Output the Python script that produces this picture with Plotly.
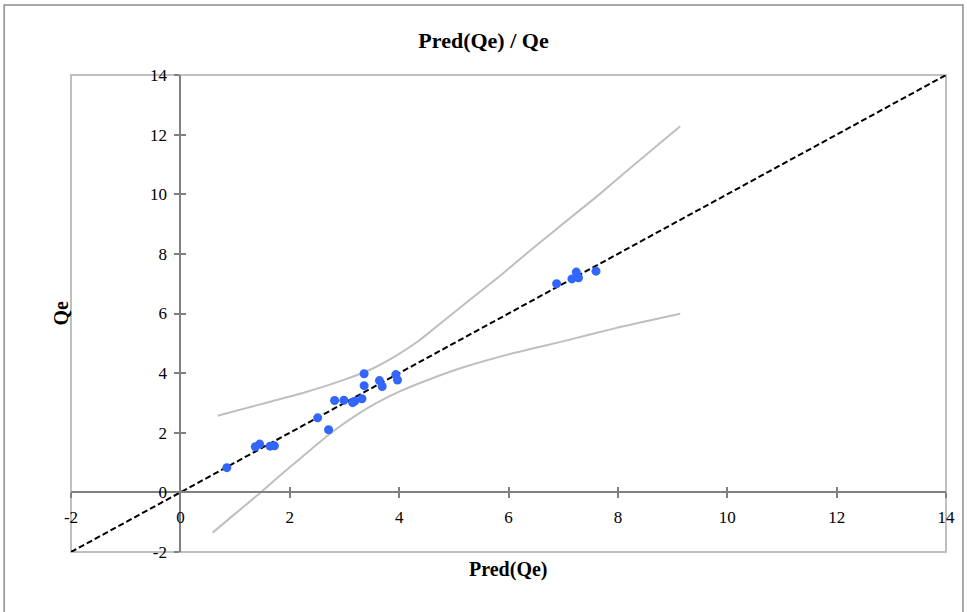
import plotly.graph_objects as go

# Observed points: Pred(Qe) vs Qe
pred = [0.85, 1.37, 1.45, 1.64, 1.72, 2.51, 2.71, 2.82, 2.99, 3.15, 3.19, 3.32,
        3.36, 3.36, 3.64, 3.69, 3.94, 3.97, 6.88, 7.16, 7.24, 7.28, 7.60]
qe = [0.83, 1.53, 1.62, 1.55, 1.56, 2.50, 2.10, 3.08, 3.09, 3.01, 3.06, 3.14,
      3.98, 3.58, 3.75, 3.55, 3.95, 3.77, 7.00, 7.16, 7.39, 7.20, 7.42]

# Upper confidence curve
upper_x = [0.68, 1.66, 2.27, 3.00, 3.49, 3.97, 4.34, 4.61, 5.22, 5.83, 6.44, 7.05, 7.65, 8.26, 9.14]
upper_y = [2.57, 3.05, 3.35, 3.78, 4.13, 4.61, 5.06, 5.45, 6.35, 7.24, 8.18, 9.09, 9.98, 10.93, 12.28]

# Lower confidence curve
lower_x = [0.59, 0.96, 1.45, 1.87, 2.36, 2.79, 3.21, 3.58, 4.00, 4.61, 5.22, 6.13, 7.05, 7.96, 9.14]
lower_y = [-1.35, -0.78, -0.03, 0.64, 1.40, 2.04, 2.58, 2.99, 3.38, 3.83, 4.22, 4.69, 5.09, 5.51, 5.99]

# Identity line
diag = [-2, 14]

tick_vals = [-2, 0, 2, 4, 6, 8, 10, 12, 14]
tick_text = ["-2", "0", "2", "4", "6", "8", "10", "12", "14"]

FONT = "Liberation Serif"

fig = go.Figure()
fig.add_trace(go.Scatter(x=upper_x, y=upper_y, mode="lines",
                         line=dict(color="#BFBFBF", width=2, shape="spline", smoothing=0.5),
                         hoverinfo="skip"))
fig.add_trace(go.Scatter(x=lower_x, y=lower_y, mode="lines",
                         line=dict(color="#BFBFBF", width=2, shape="spline", smoothing=0.5),
                         hoverinfo="skip"))
fig.add_trace(go.Scatter(x=diag, y=diag, mode="lines",
                         line=dict(color="black", width=2, dash="6px,3px")))
fig.add_trace(go.Scatter(x=pred, y=qe, mode="markers",
                         marker=dict(color="#3366FF", size=9)))

axis_common = dict(
    range=[-2, 14], tickvals=tick_vals, ticktext=tick_text,
    anchor="free", position=0.125,
    showline=True, linecolor="#808080", linewidth=2,
    ticks="outside", ticklen=5, tickcolor="#808080", tickwidth=2,
    showgrid=False, zeroline=False,
    ticklabelstandoff=4,
    tickfont=dict(family=FONT, size=17, color="black"),
)
# overlay axes to draw the inner half of the crossing tick marks
axis_inner = dict(
    range=[-2, 14], tickvals=tick_vals,
    anchor="free", position=0.125,
    showline=False, ticks="inside", ticklen=5, tickcolor="#808080", tickwidth=2,
    showticklabels=False, showgrid=False, zeroline=False,
)

fig.update_layout(
    width=967, height=612,
    margin=dict(l=71, r=19, t=75, b=60),
    paper_bgcolor="white", plot_bgcolor="white",
    showlegend=False,
    title=dict(text="<b>Pred(Qe) / Qe</b>", x=0.5, xref="container", xanchor="center",
               y=1 - 40 / 612, yref="container", yanchor="middle",
               font=dict(family=FONT, size=22, color="black")),
    xaxis=dict(**axis_common),
    yaxis=dict(**axis_common),
    xaxis2=dict(**axis_inner, overlaying="x"),
    yaxis2=dict(**axis_inner, overlaying="y"),
    shapes=[
        dict(type="rect", xref="paper", yref="paper", x0=0, x1=1, y0=0, y1=1,
             line=dict(color="#BFBFBF", width=2), layer="below"),
        dict(type="rect", xref="paper", yref="paper",
             x0=(4 - 71) / 877, x1=(965 - 71) / 877,
             y0=(552 - 640) / 477, y1=(552 - 5) / 477,
             line=dict(color="#8C8C8C", width=1.5), layer="below"),
    ],
    annotations=[
        dict(text="<b>Pred(Qe)</b>", xref="paper", yref="paper", x=0.5, y=(552 - 569) / 477,
             xanchor="center", yanchor="middle", showarrow=False,
             font=dict(family=FONT, size=20, color="black")),
        dict(text="<b>Qe</b>", xref="paper", yref="paper", x=(60 - 71) / 877, y=0.5,
             xanchor="center", yanchor="middle", showarrow=False, textangle=-90,
             font=dict(family=FONT, size=20, color="black")),
    ],
)
# dummy invisible trace to activate overlay axes
fig.add_trace(go.Scatter(x=[None], y=[None], xaxis="x2", yaxis="y2", hoverinfo="skip"))

fig.write_html("out.html")
